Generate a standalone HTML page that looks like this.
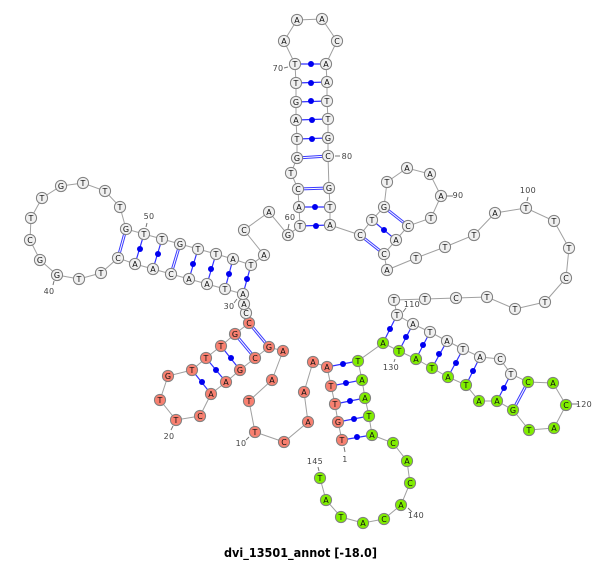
<!DOCTYPE html>
<html><head><meta charset="utf-8"><style>
html,body{margin:0;padding:0;background:#fff}
svg{display:block}
.b{fill:none;stroke:#a0a0a0;stroke-width:1}
.p line{stroke:#3030ff;stroke-width:1.2}
.d line{stroke:#3a3aff;stroke-width:3}
.w line{stroke:#fff;stroke-width:1}
.dots circle{fill:#0000f0}
.n circle{stroke:#808080;stroke-width:1;r:5.6px}
.g circle{fill:#f0f0f0}.r circle{fill:#f88070}.v circle{fill:#80ee00}
.n text{font:8px "DejaVu Sans",sans-serif;fill:#111;text-anchor:middle}
.l text{font:8px "DejaVu Sans",sans-serif;fill:#444;text-anchor:middle;letter-spacing:.3px}
.t line{stroke:#777;stroke-width:1}
</style></head><body>
<svg width="600" height="562" viewBox="0 0 600 562" xmlns="http://www.w3.org/2000/svg">
<polyline class="b" points="342,440 338,422 335,404 331,386 327,367 313,362 304,392 308,422 284,442 255,432 249,401 272,380 283,351 269,347 255,358 240,370 226,382 211,394 200,416 176,420 160,400 168,376 192,370 206,358 221,346 235,334 249,323 246,313 244,304 243,294 225,289 207,284 189,279 171,274 153,269 135,264 118,258 101,273 79,279 57,275 40,260 30,240 31,218 42,198 61,186 83,183 105,191 120,207 126,229 144,234 162,239 180,244 198,249 216,254 233,259 251,265 264,255 244,230 269,212 288,235 300,226 299,207 298,189 291,173 297,158 297,139 296,120 296,102 296,83 295,64 284,41 297,20 322,19 337,41 326,64 327,82 327,101 328,119 328,138 328,156 329,188 330,207 330,225 360,235 372,220 384,207 387,182 407,168 430,174 441,196 431,218 408,226 396,240 384,254 387,270 416,258 445,247 474,235 495,213 526,208 554,221 569,248 566,278 545,302 515,309 487,297 456,298 425,299 394,300 397,315 413,324 430,332 447,341 463,349 480,357 500,359 511,374 528,382 553,383 566,405 554,428 529,430 513,410 497,401 479,401 466,385 448,377 432,368 416,359 399,351 383,343 358,361 362,380 365,398 369,416 372,435 393,443 407,461 410,483 401,505 384,519 363,523 341,517 326,500 320,478"/>
<g class="p">
<line x1="295" y1="64" x2="326" y2="64"/><line x1="296" y1="83" x2="327" y2="82"/><line x1="296" y1="102" x2="327" y2="101"/><line x1="296" y1="120" x2="328" y2="119"/><line x1="297" y1="139" x2="328" y2="138"/><line x1="299" y1="207" x2="330" y2="207"/><line x1="300" y1="226" x2="330" y2="225"/>
<line x1="372" y1="220" x2="396" y2="240"/>
<line x1="144" y1="234" x2="135" y2="264"/><line x1="162" y1="239" x2="153" y2="269"/><line x1="198" y1="249" x2="189" y2="279"/><line x1="216" y1="254" x2="207" y2="284"/><line x1="233" y1="259" x2="225" y2="289"/><line x1="251" y1="265" x2="243" y2="294"/>
<line x1="221" y1="346" x2="240" y2="370"/><line x1="206" y1="358" x2="226" y2="382"/><line x1="192" y1="370" x2="211" y2="394"/>
<line x1="327" y1="367" x2="358" y2="361"/><line x1="331" y1="386" x2="362" y2="380"/><line x1="335" y1="404" x2="365" y2="398"/><line x1="338" y1="422" x2="369" y2="416"/><line x1="342" y1="440" x2="372" y2="435"/>
<line x1="397" y1="315" x2="383" y2="343"/><line x1="413" y1="324" x2="399" y2="351"/><line x1="430" y1="332" x2="416" y2="359"/><line x1="447" y1="341" x2="432" y2="368"/><line x1="463" y1="349" x2="448" y2="377"/><line x1="480" y1="357" x2="466" y2="385"/><line x1="511" y1="374" x2="497" y2="401"/>
</g>
<g class="d">
<line x1="297" y1="158" x2="328" y2="156"/><line x1="298" y1="189" x2="329" y2="188"/><line x1="360" y1="235" x2="384" y2="254"/><line x1="384" y1="207" x2="408" y2="226"/><line x1="126" y1="229" x2="118" y2="258"/><line x1="180" y1="244" x2="171" y2="274"/><line x1="249" y1="323" x2="269" y2="347"/><line x1="235" y1="334" x2="255" y2="358"/><line x1="528" y1="382" x2="513" y2="410"/>
</g>
<g class="w">
<line x1="297" y1="158" x2="328" y2="156"/><line x1="298" y1="189" x2="329" y2="188"/><line x1="360" y1="235" x2="384" y2="254"/><line x1="384" y1="207" x2="408" y2="226"/><line x1="126" y1="229" x2="118" y2="258"/><line x1="180" y1="244" x2="171" y2="274"/><line x1="249" y1="323" x2="269" y2="347"/><line x1="235" y1="334" x2="255" y2="358"/><line x1="528" y1="382" x2="513" y2="410"/>
</g>
<g class="dots">
<circle cx="311" cy="64" r="3"/><circle cx="311" cy="83" r="3"/><circle cx="311" cy="101" r="3"/><circle cx="312" cy="120" r="3"/><circle cx="312" cy="139" r="3"/><circle cx="315" cy="207" r="3"/><circle cx="316" cy="226" r="3"/><circle cx="384" cy="230" r="3"/>
<circle cx="140" cy="249" r="3"/><circle cx="158" cy="254" r="3"/><circle cx="193" cy="264" r="3"/><circle cx="211" cy="269" r="3"/><circle cx="229" cy="274" r="3"/><circle cx="247" cy="279" r="3"/>
<circle cx="231" cy="358" r="3"/><circle cx="216" cy="370" r="3"/><circle cx="202" cy="382" r="3"/>
<circle cx="343" cy="364" r="3"/><circle cx="346" cy="383" r="3"/><circle cx="350" cy="401" r="3"/><circle cx="354" cy="419" r="3"/><circle cx="357" cy="437" r="3"/>
<circle cx="390" cy="329" r="3"/><circle cx="406" cy="337" r="3"/><circle cx="423" cy="345" r="3"/><circle cx="439" cy="354" r="3"/><circle cx="456" cy="363" r="3"/><circle cx="473" cy="371" r="3"/><circle cx="504" cy="388" r="3"/>
</g>
<g class="n r">
<circle cx="342" cy="440" r="5"/><text x="342" y="443">T</text>
<circle cx="338" cy="422" r="5"/><text x="338" y="425">G</text>
<circle cx="335" cy="404" r="5"/><text x="335" y="407">T</text>
<circle cx="331" cy="386" r="5"/><text x="331" y="389">T</text>
<circle cx="327" cy="367" r="5"/><text x="327" y="370">A</text>
<circle cx="313" cy="362" r="5"/><text x="313" y="365">A</text>
<circle cx="304" cy="392" r="5"/><text x="304" y="395">A</text>
<circle cx="308" cy="422" r="5"/><text x="308" y="425">A</text>
<circle cx="284" cy="442" r="5"/><text x="284" y="445">C</text>
<circle cx="255" cy="432" r="5"/><text x="255" y="435">T</text>
<circle cx="249" cy="401" r="5"/><text x="249" y="404">T</text>
<circle cx="272" cy="380" r="5"/><text x="272" y="383">A</text>
<circle cx="283" cy="351" r="5"/><text x="283" y="354">A</text>
<circle cx="269" cy="347" r="5"/><text x="269" y="350">G</text>
<circle cx="255" cy="358" r="5"/><text x="255" y="361">C</text>
<circle cx="240" cy="370" r="5"/><text x="240" y="373">G</text>
<circle cx="226" cy="382" r="5"/><text x="226" y="385">A</text>
<circle cx="211" cy="394" r="5"/><text x="211" y="397">A</text>
<circle cx="200" cy="416" r="5"/><text x="200" y="419">C</text>
<circle cx="176" cy="420" r="5"/><text x="176" y="423">T</text>
<circle cx="160" cy="400" r="5"/><text x="160" y="403">T</text>
<circle cx="168" cy="376" r="5"/><text x="168" y="379">G</text>
<circle cx="192" cy="370" r="5"/><text x="192" y="373">T</text>
<circle cx="206" cy="358" r="5"/><text x="206" y="361">T</text>
<circle cx="221" cy="346" r="5"/><text x="221" y="349">T</text>
<circle cx="235" cy="334" r="5"/><text x="235" y="337">G</text>
<circle cx="249" cy="323" r="5"/><text x="249" y="326">C</text>
</g>
<g class="n g">
<circle cx="246" cy="313" r="5"/><text x="246" y="316">C</text>
<circle cx="244" cy="304" r="5"/><text x="244" y="307">A</text>
<circle cx="243" cy="294" r="5"/><text x="243" y="297">A</text>
<circle cx="225" cy="289" r="5"/><text x="225" y="292">T</text>
<circle cx="207" cy="284" r="5"/><text x="207" y="287">A</text>
<circle cx="189" cy="279" r="5"/><text x="189" y="282">A</text>
<circle cx="171" cy="274" r="5"/><text x="171" y="277">C</text>
<circle cx="153" cy="269" r="5"/><text x="153" y="272">A</text>
<circle cx="135" cy="264" r="5"/><text x="135" y="267">A</text>
<circle cx="118" cy="258" r="5"/><text x="118" y="261">C</text>
<circle cx="101" cy="273" r="5"/><text x="101" y="276">T</text>
<circle cx="79" cy="279" r="5"/><text x="79" y="282">T</text>
<circle cx="57" cy="275" r="5"/><text x="57" y="278">G</text>
<circle cx="40" cy="260" r="5"/><text x="40" y="263">G</text>
<circle cx="30" cy="240" r="5"/><text x="30" y="243">C</text>
<circle cx="31" cy="218" r="5"/><text x="31" y="221">T</text>
<circle cx="42" cy="198" r="5"/><text x="42" y="201">T</text>
<circle cx="61" cy="186" r="5"/><text x="61" y="189">G</text>
<circle cx="83" cy="183" r="5"/><text x="83" y="186">T</text>
<circle cx="105" cy="191" r="5"/><text x="105" y="194">T</text>
<circle cx="120" cy="207" r="5"/><text x="120" y="210">T</text>
<circle cx="126" cy="229" r="5"/><text x="126" y="232">G</text>
<circle cx="144" cy="234" r="5"/><text x="144" y="237">T</text>
<circle cx="162" cy="239" r="5"/><text x="162" y="242">T</text>
<circle cx="180" cy="244" r="5"/><text x="180" y="247">G</text>
<circle cx="198" cy="249" r="5"/><text x="198" y="252">T</text>
<circle cx="216" cy="254" r="5"/><text x="216" y="257">T</text>
<circle cx="233" cy="259" r="5"/><text x="233" y="262">A</text>
<circle cx="251" cy="265" r="5"/><text x="251" y="268">T</text>
<circle cx="264" cy="255" r="5"/><text x="264" y="258">A</text>
<circle cx="244" cy="230" r="5"/><text x="244" y="233">C</text>
<circle cx="269" cy="212" r="5"/><text x="269" y="215">A</text>
<circle cx="288" cy="235" r="5"/><text x="288" y="238">G</text>
<circle cx="300" cy="226" r="5"/><text x="300" y="229">T</text>
<circle cx="299" cy="207" r="5"/><text x="299" y="210">A</text>
<circle cx="298" cy="189" r="5"/><text x="298" y="192">C</text>
<circle cx="291" cy="173" r="5"/><text x="291" y="176">T</text>
<circle cx="297" cy="158" r="5"/><text x="297" y="161">G</text>
<circle cx="297" cy="139" r="5"/><text x="297" y="142">T</text>
<circle cx="296" cy="120" r="5"/><text x="296" y="123">A</text>
<circle cx="296" cy="102" r="5"/><text x="296" y="105">G</text>
<circle cx="296" cy="83" r="5"/><text x="296" y="86">T</text>
<circle cx="295" cy="64" r="5"/><text x="295" y="67">T</text>
<circle cx="284" cy="41" r="5"/><text x="284" y="44">A</text>
<circle cx="297" cy="20" r="5"/><text x="297" y="23">A</text>
<circle cx="322" cy="19" r="5"/><text x="322" y="22">A</text>
<circle cx="337" cy="41" r="5"/><text x="337" y="44">C</text>
<circle cx="326" cy="64" r="5"/><text x="326" y="67">A</text>
<circle cx="327" cy="82" r="5"/><text x="327" y="85">A</text>
<circle cx="327" cy="101" r="5"/><text x="327" y="104">T</text>
<circle cx="328" cy="119" r="5"/><text x="328" y="122">T</text>
<circle cx="328" cy="138" r="5"/><text x="328" y="141">G</text>
<circle cx="328" cy="156" r="5"/><text x="328" y="159">C</text>
<circle cx="329" cy="188" r="5"/><text x="329" y="191">G</text>
<circle cx="330" cy="207" r="5"/><text x="330" y="210">T</text>
<circle cx="330" cy="225" r="5"/><text x="330" y="228">A</text>
<circle cx="360" cy="235" r="5"/><text x="360" y="238">C</text>
<circle cx="372" cy="220" r="5"/><text x="372" y="223">T</text>
<circle cx="384" cy="207" r="5"/><text x="384" y="210">G</text>
<circle cx="387" cy="182" r="5"/><text x="387" y="185">T</text>
<circle cx="407" cy="168" r="5"/><text x="407" y="171">A</text>
<circle cx="430" cy="174" r="5"/><text x="430" y="177">A</text>
<circle cx="441" cy="196" r="5"/><text x="441" y="199">A</text>
<circle cx="431" cy="218" r="5"/><text x="431" y="221">T</text>
<circle cx="408" cy="226" r="5"/><text x="408" y="229">C</text>
<circle cx="396" cy="240" r="5"/><text x="396" y="243">A</text>
<circle cx="384" cy="254" r="5"/><text x="384" y="257">C</text>
<circle cx="387" cy="270" r="5"/><text x="387" y="273">A</text>
<circle cx="416" cy="258" r="5"/><text x="416" y="261">T</text>
<circle cx="445" cy="247" r="5"/><text x="445" y="250">T</text>
<circle cx="474" cy="235" r="5"/><text x="474" y="238">T</text>
<circle cx="495" cy="213" r="5"/><text x="495" y="216">A</text>
<circle cx="526" cy="208" r="5"/><text x="526" y="211">T</text>
<circle cx="554" cy="221" r="5"/><text x="554" y="224">T</text>
<circle cx="569" cy="248" r="5"/><text x="569" y="251">T</text>
<circle cx="566" cy="278" r="5"/><text x="566" y="281">C</text>
<circle cx="545" cy="302" r="5"/><text x="545" y="305">T</text>
<circle cx="515" cy="309" r="5"/><text x="515" y="312">T</text>
<circle cx="487" cy="297" r="5"/><text x="487" y="300">T</text>
<circle cx="456" cy="298" r="5"/><text x="456" y="301">C</text>
<circle cx="425" cy="299" r="5"/><text x="425" y="302">T</text>
<circle cx="394" cy="300" r="5"/><text x="394" y="303">T</text>
<circle cx="397" cy="315" r="5"/><text x="397" y="318">T</text>
<circle cx="413" cy="324" r="5"/><text x="413" y="327">A</text>
<circle cx="430" cy="332" r="5"/><text x="430" y="335">T</text>
<circle cx="447" cy="341" r="5"/><text x="447" y="344">A</text>
<circle cx="463" cy="349" r="5"/><text x="463" y="352">T</text>
<circle cx="480" cy="357" r="5"/><text x="480" y="360">A</text>
<circle cx="500" cy="359" r="5"/><text x="500" y="362">C</text>
<circle cx="511" cy="374" r="5"/><text x="511" y="377">T</text>
</g>
<g class="n v">
<circle cx="528" cy="382" r="5"/><text x="528" y="385">C</text>
<circle cx="553" cy="383" r="5"/><text x="553" y="386">A</text>
<circle cx="566" cy="405" r="5"/><text x="566" y="408">C</text>
<circle cx="554" cy="428" r="5"/><text x="554" y="431">A</text>
<circle cx="529" cy="430" r="5"/><text x="529" y="433">T</text>
<circle cx="513" cy="410" r="5"/><text x="513" y="413">G</text>
<circle cx="497" cy="401" r="5"/><text x="497" y="404">A</text>
<circle cx="479" cy="401" r="5"/><text x="479" y="404">A</text>
<circle cx="466" cy="385" r="5"/><text x="466" y="388">T</text>
<circle cx="448" cy="377" r="5"/><text x="448" y="380">A</text>
<circle cx="432" cy="368" r="5"/><text x="432" y="371">T</text>
<circle cx="416" cy="359" r="5"/><text x="416" y="362">A</text>
<circle cx="399" cy="351" r="5"/><text x="399" y="354">T</text>
<circle cx="383" cy="343" r="5"/><text x="383" y="346">A</text>
<circle cx="358" cy="361" r="5"/><text x="358" y="364">T</text>
<circle cx="362" cy="380" r="5"/><text x="362" y="383">A</text>
<circle cx="365" cy="398" r="5"/><text x="365" y="401">A</text>
<circle cx="369" cy="416" r="5"/><text x="369" y="419">T</text>
<circle cx="372" cy="435" r="5"/><text x="372" y="438">A</text>
<circle cx="393" cy="443" r="5"/><text x="393" y="446">C</text>
<circle cx="407" cy="461" r="5"/><text x="407" y="464">A</text>
<circle cx="410" cy="483" r="5"/><text x="410" y="486">C</text>
<circle cx="401" cy="505" r="5"/><text x="401" y="508">A</text>
<circle cx="384" cy="519" r="5"/><text x="384" y="522">C</text>
<circle cx="363" cy="523" r="5"/><text x="363" y="526">A</text>
<circle cx="341" cy="517" r="5"/><text x="341" y="520">T</text>
<circle cx="326" cy="500" r="5"/><text x="326" y="503">A</text>
<circle cx="320" cy="478" r="5"/><text x="320" y="481">T</text>
</g>
<g class="t">
<line x1="344" y1="447" x2="345" y2="452"/><line x1="246" y1="440" x2="249" y2="437"/><line x1="173" y1="426" x2="171" y2="430"/><line x1="234" y1="303" x2="237" y2="299"/><line x1="54" y1="281" x2="53" y2="285"/><line x1="147" y1="223" x2="146" y2="227"/><line x1="289" y1="224" x2="288" y2="229"/><line x1="284" y1="68" x2="288" y2="67"/><line x1="335" y1="156" x2="340" y2="156"/><line x1="447" y1="196" x2="453" y2="196"/><line x1="528" y1="197" x2="527" y2="201"/><line x1="403" y1="312" x2="406" y2="308"/><line x1="572" y1="404" x2="578" y2="404"/><line x1="395" y1="359" x2="394" y2="362"/><line x1="408" y1="508" x2="412" y2="512"/><line x1="318" y1="467" x2="319" y2="471"/>
</g>
<g class="l">
<text x="345" y="462">1</text><text x="241" y="446">10</text><text x="169" y="439">20</text><text x="229" y="309">30</text><text x="49" y="294">40</text><text x="149" y="219">50</text><text x="290" y="220">60</text><text x="278" y="71">70</text><text x="347" y="159">80</text><text x="458" y="198">90</text><text x="528" y="193">100</text><text x="412" y="307">110</text><text x="584" y="407">120</text><text x="391" y="370">130</text><text x="416" y="518">140</text><text x="315" y="464">145</text>
</g>
<text x="300.5" y="557" text-anchor="middle" textLength="153" lengthAdjust="spacingAndGlyphs" style="font:bold 12px 'DejaVu Sans',sans-serif;fill:#000">dvi_13501_annot [-18.0]</text>
</svg>
</body></html>
